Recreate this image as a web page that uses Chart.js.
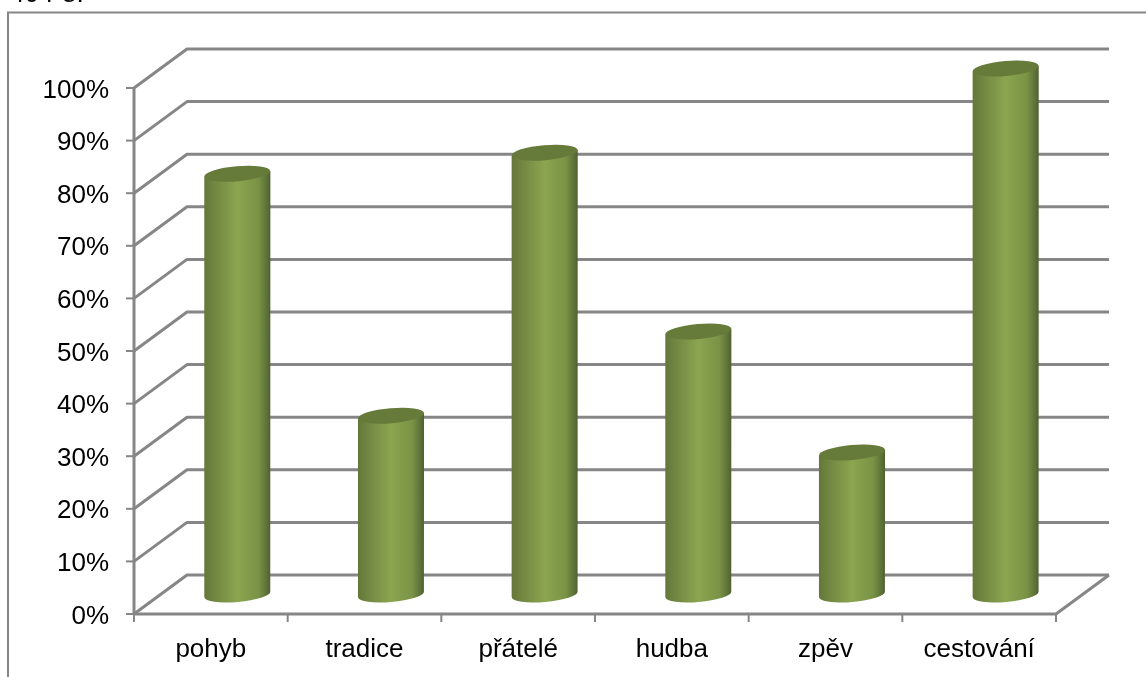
<!DOCTYPE html>
<html><head><meta charset="utf-8">
<style>html,body{margin:0;padding:0;background:#fff;overflow:hidden}
#w{position:relative;width:1146px;height:677px}
canvas{position:absolute;left:0;top:0}</style>
<script src="https://cdn.jsdelivr.net/npm/chart.js@4/dist/chart.umd.js"></script>
</head><body><div id="w"><canvas id="c" width="1146" height="677"></canvas></div>
<script>
const categories = ["pohyb","tradice","přátelé","hudba","zpěv","cestování"];
const values = [80,34,84,50,27,100];
const yTicks = [0,10,20,30,40,50,60,70,80,90,100];
const clippedHeading = "40 r 8.";

const DX = 53, DY = -39;
const GRID = "#868686";
const proto = Chart.BarElement.prototype;
proto.draw = function(ctx){
  const cx = this.x + DX/2, w = this.width, top = this.y + DY/2, base = this.base + DY/2;
  const l = cx - w/2, r = cx + w/2, rx = w/2, ry = 7.5, tilt = -0.085;
  const g = ctx.createLinearGradient(l,0,r,0);
  g.addColorStop(0,"#647739"); g.addColorStop(0.15,"#718641"); g.addColorStop(0.5,"#8ba550");
  g.addColorStop(0.82,"#7a9245"); g.addColorStop(0.95,"#5c7038"); g.addColorStop(1,"#4f6030");
  ctx.save();
  ctx.beginPath();
  ctx.moveTo(l, top + rx*0.085);
  ctx.lineTo(l, base + rx*0.085);
  ctx.ellipse(cx, base, rx, ry, tilt, Math.PI, 0, true);
  ctx.lineTo(r, top - rx*0.085);
  ctx.closePath();
  ctx.fillStyle = g; ctx.fill();
  ctx.beginPath();
  ctx.ellipse(cx, top, rx, ry, tilt, 0, Math.PI*2);
  ctx.fillStyle = "#667a3a"; ctx.fill();
  ctx.restore();
};

const wall3d = {
  id:"wall3d",
  afterLayout(chart){
    const s = chart.scales.y;
    if(s.__shifted) return;
    const orig = s.drawLabels.bind(s);
    s.drawLabels = function(area){
      chart.ctx.save(); chart.ctx.translate(0,2.5); orig(area); chart.ctx.restore();
    };
    s.__shifted = true;
  },
  beforeDatasetsDraw(chart){
    const {ctx, chartArea:a, scales:{x,y}} = chart;
    ctx.save();
    ctx.strokeStyle = GRID; ctx.lineCap = "butt"; ctx.lineJoin = "round";
    yTicks.forEach(v=>{
      const p = y.getPixelForValue(v);
      ctx.lineWidth = 3;
      ctx.beginPath();
      ctx.moveTo(a.left, p);
      ctx.lineTo(a.left+DX, p+DY);
      ctx.lineTo(a.right+DX, p+DY);
      ctx.stroke();
    });
    const b = y.getPixelForValue(0);
    ctx.lineWidth = 3;
    ctx.beginPath();
    ctx.moveTo(a.left, b); ctx.lineTo(a.right, b); ctx.lineTo(a.right+DX, b+DY);
    ctx.stroke();
    ctx.beginPath();
    ctx.moveTo(a.left, y.getPixelForValue(100)); ctx.lineTo(a.left, b);
    ctx.stroke();
    ctx.lineWidth = 2;
    yTicks.forEach(v=>{
      const p = y.getPixelForValue(v);
      ctx.beginPath(); ctx.moveTo(a.left-8,p); ctx.lineTo(a.left,p); ctx.stroke();
    });
    for(let i=0;i<=categories.length;i++){
      const px = a.left + i*(a.right-a.left)/categories.length;
      ctx.beginPath(); ctx.moveTo(px,b); ctx.lineTo(px,b+8); ctx.stroke();
    }
    ctx.restore();
  }
};
const frame = {
  id:"frame",
  beforeDraw(chart){
    const ctx = chart.ctx;
    ctx.save();
    ctx.strokeStyle = GRID; ctx.lineWidth = 2;
    ctx.beginPath(); ctx.moveTo(8,677); ctx.lineTo(8,12.5); ctx.lineTo(1146,12.5); ctx.stroke();
    ctx.fillStyle = "#000"; ctx.font = "26px 'Liberation Sans'"; ctx.textBaseline = "alphabetic";
    ctx.fillText(clippedHeading, 10, 2);
    ctx.restore();
  }
};

new Chart(document.getElementById("c"),{
  type:"bar",
  data:{labels:categories,datasets:[{data:values,backgroundColor:"#7f9a48",barPercentage:1,categoryPercentage:0.43,clip:false}]},
  plugins:[frame,wall3d],
  options:{
    responsive:false,animation:false,
    layout:{padding:{top:88,right:90,bottom:0,left:0}},
    plugins:{legend:{display:false},tooltip:{enabled:false}},
    scales:{
      x:{
        afterFit(s){s.height=63;},
        grid:{display:false,drawTicks:false},border:{display:false},
        ticks:{color:"#000",font:{family:"'Liberation Sans'",size:26},padding:20,maxRotation:0,autoSkip:false}
      },
      y:{
        min:0,max:100,
        afterFit(s){s.width=134;},
        grid:{display:false,drawTicks:false},border:{display:false},
        ticks:{stepSize:10,color:"#000",padding:25,font:{family:"'Liberation Sans'",size:26},callback:v=>v+"%"}
      }
    }
  }
});
</script></body></html>
